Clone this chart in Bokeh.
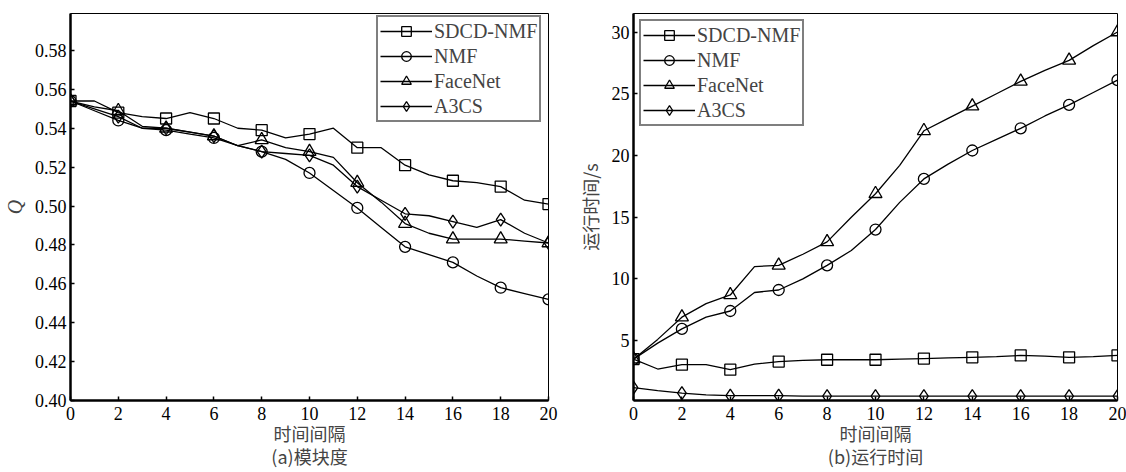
from bokeh.plotting import figure
from bokeh.layouts import row
from bokeh.models import (Legend, LegendItem, FixedTicker, LinearAxis, Range1d,
                          PrintfTickFormatter)
from bokeh.embed import file_html
from bokeh.resources import INLINE

# ---------------- data ----------------
x_steps = list(range(0, 21))
x_ticks = [0, 2, 4, 6, 8, 10, 12, 14, 16, 18, 20]

series_names = ["SDCD-NMF", "NMF", "FaceNet", "A3CS"]
markers = ["square", "circle", "triangle", "diamond"]

# (a) modularity Q
q_sdcd = [0.554, 0.554, 0.548, 0.546, 0.545, 0.548, 0.545, 0.540, 0.539, 0.535, 0.537,
          0.540, 0.530, 0.530, 0.521, 0.516, 0.513, 0.512, 0.510, 0.503, 0.501]
q_nmf = [0.554, 0.549, 0.544, 0.540, 0.539, 0.537, 0.535, 0.531, 0.528, 0.524, 0.517,
         0.508, 0.499, 0.489, 0.479, 0.475, 0.471, 0.464, 0.458, 0.455, 0.452]
q_facenet = [0.554, 0.551, 0.549, 0.541, 0.540, 0.538, 0.536, 0.531, 0.534, 0.530, 0.528,
             0.525, 0.512, 0.502, 0.491, 0.486, 0.483, 0.483, 0.483, 0.482, 0.481]
q_a3cs = [0.554, 0.550, 0.546, 0.540, 0.540, 0.538, 0.536, 0.531, 0.528, 0.527, 0.526,
          0.521, 0.510, 0.503, 0.496, 0.495, 0.492, 0.489, 0.493, 0.486, 0.481]
q_ticks = [0.40, 0.42, 0.44, 0.46, 0.48, 0.50, 0.52, 0.54, 0.56, 0.58]

# (b) running time / s
t_sdcd = [3.5, 2.7, 3.05, 3.05, 2.65, 3.1, 3.3, 3.4, 3.45, 3.45, 3.45,
          3.5, 3.55, 3.6, 3.65, 3.7, 3.8, 3.75, 3.65, 3.7, 3.8]
t_nmf = [3.5, 4.8, 5.95, 6.9, 7.4, 8.9, 9.1, 10.0, 11.1, 12.3, 14.0,
         16.2, 18.1, 19.3, 20.4, 21.3, 22.2, 23.2, 24.1, 25.1, 26.1]
t_facenet = [3.5, 5.1, 6.9, 8.0, 8.7, 11.0, 11.1, 12.0, 13.0, 15.0, 16.9,
             19.2, 22.0, 23.0, 24.0, 25.0, 26.0, 26.9, 27.7, 28.9, 30.0]
t_a3cs = [1.2, 0.95, 0.75, 0.6, 0.55, 0.55, 0.55, 0.5, 0.5, 0.5, 0.5,
          0.5, 0.5, 0.5, 0.5, 0.5, 0.5, 0.5, 0.5, 0.5, 0.5]
t_ticks = [5, 10, 15, 20, 25, 30]

SERIF = "Liberation Serif"
CJK = "Noto Sans CJK SC"


def make_fig(width, height, y_range, y_ticks, y_fmt, ylabel, ylabel_font, ylabel_style,
             caption, series, legend_loc, legend_margin, border_left, border_right, border_top):
    p = figure(width=width, height=height, output_backend="svg", toolbar_location=None,
               x_range=Range1d(0, 20), y_range=y_range,
               min_border_left=border_left, min_border_right=border_right,
               min_border_top=border_top, min_border_bottom=height - 400)
    p.background_fill_color = "white"
    p.border_fill_color = "white"
    p.outline_line_color = "black"
    p.outline_line_width = 1
    p.xgrid.visible = False
    p.ygrid.visible = False

    for ax in (p.xaxis, p.yaxis):
        ax.axis_line_width = 2.5
        ax.axis_line_color = "black"
        ax.major_tick_in = 4
        ax.major_tick_out = 0
        ax.minor_tick_in = 0
        ax.minor_tick_out = 0
        ax.major_tick_line_width = 1.5
        ax.major_label_text_font = SERIF
        ax.major_label_text_font_size = "18px"
        ax.major_label_text_color = "black"
        ax.major_label_standoff = 4
    p.xaxis.major_label_standoff = 6

    p.xaxis.ticker = FixedTicker(ticks=x_ticks)
    p.yaxis.ticker = FixedTicker(ticks=y_ticks)
    if y_fmt:
        p.yaxis.formatter = PrintfTickFormatter(format=y_fmt)

    p.xaxis.axis_label = "时间间隔"
    p.xaxis.axis_label_text_font = CJK
    p.xaxis.axis_label_text_font_size = "18px"
    p.xaxis.axis_label_text_font_style = "normal"
    p.xaxis.axis_label_text_line_height = 0.9
    p.xaxis.axis_label_standoff = -3

    p.yaxis.axis_label = ylabel
    p.yaxis.axis_label_text_font = ylabel_font
    p.yaxis.axis_label_text_font_size = "20px" if ylabel_style == "italic" else "18px"
    p.yaxis.axis_label_text_font_style = ylabel_style
    p.yaxis.axis_label_standoff = 6

    # caption as a tick-less second axis below
    cap_axis = LinearAxis(ticker=FixedTicker(ticks=[]), axis_line_color=None,
                          major_tick_line_color=None, minor_tick_line_color=None,
                          major_label_text_font_size="0px", major_label_standoff=0,
                          major_tick_in=0, major_tick_out=0,
                          minor_tick_in=0, minor_tick_out=0,
                          axis_label=caption, axis_label_standoff=-6,
                          axis_label_text_font=CJK, axis_label_text_font_size="18px",
                          axis_label_text_font_style="normal",
                          axis_label_text_line_height=0.9)
    p.add_layout(cap_axis, "below")

    items = []
    for name, mk, ys in zip(series_names, markers, series):
        lr = p.line(x_steps, ys, line_color="black", line_width=1.3)
        xs_m = x_steps[::2]
        ys_m = ys[::2]
        size = 11 if mk in ("square", "circle") else 13
        sr = p.scatter(xs_m, ys_m, marker=mk, size=size, line_color="black",
                       line_width=1.3, fill_color=None)
        items.append(LegendItem(label=name, renderers=[lr, sr]))

    legend = Legend(items=items, location=legend_loc, margin=legend_margin,
                    label_text_font=SERIF, label_text_font_size="20px",
                    glyph_width=52, glyph_height=24, label_height=24,
                    label_standoff=2, spacing=1, padding=2,
                    border_line_color="black", border_line_width=2,
                    background_fill_color="white", background_fill_alpha=1)
    p.add_layout(legend)
    return p


p1 = make_fig(560, 472, Range1d(0.40, 0.599), q_ticks, "%.2f", "Q", SERIF, "italic",
              "(a)模块度", [q_sdcd, q_nmf, q_facenet, q_a3cs], (306, 278), 0, 69, 12, 12)
p2 = make_fig(566, 472, Range1d(0.15, 31.5), t_ticks, None, "运行时间/s", CJK, "normal",
              "(b)运行时间", [t_sdcd, t_nmf, t_facenet, t_a3cs], "top_left", 6, 73, 9, 13)

layout = row(p1, p2)
open("out.html", "w").write(file_html(layout, INLINE))
